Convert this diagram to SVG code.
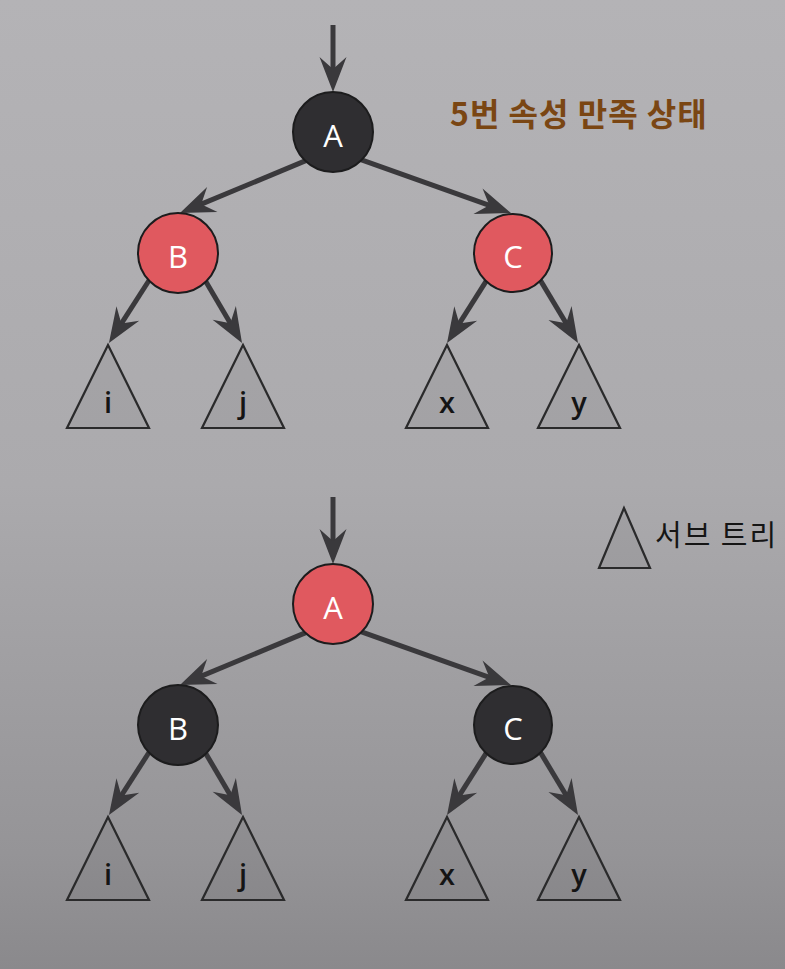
<svg xmlns="http://www.w3.org/2000/svg" width="785" height="969" viewBox="0 0 785 969">
  <defs>
    <linearGradient id="bg" x1="0" y1="0" x2="0" y2="1">
      <stop offset="0" stop-color="#b4b3b6"/>
      <stop offset="0.5" stop-color="#abaaad"/>
      <stop offset="0.88" stop-color="#959497"/>
      <stop offset="1" stop-color="#8a898c"/>
    </linearGradient>
    <marker id="ah" viewBox="-37 -15 38 30" refX="-14" refY="0" markerWidth="38" markerHeight="30" markerUnits="userSpaceOnUse" orient="auto">
      <path d="M0,0 L-35,-13.5 L-23,0 L-35,13.5 Z" fill="#3a393c"/>
    </marker>
    <style>
      .edge { stroke: #3a393c; stroke-width: 5; fill: none; marker-end: url(#ah); }
      .black { fill: #2f2e31; stroke: #1c1c1d; stroke-width: 2; }
      .red { fill: #e0595f; stroke: #1c1c1d; stroke-width: 2; }
      .lbl { font-family: "Open Sans", "Liberation Sans", sans-serif; font-size: 31px; font-weight: 500; fill: #ffffff; text-anchor: middle; }
      .tri { fill: #000000; fill-opacity: 0.05; stroke: #2a2a2b; stroke-width: 2.2; stroke-linejoin: miter; }
      .tlbl { font-family: "Open Sans", "Liberation Sans", sans-serif; font-size: 29px; font-weight: 600; fill: #141414; text-anchor: middle; }
    </style>
  </defs>

  <rect x="0" y="0" width="785" height="969" fill="url(#bg)"/>

  <!-- Connectors -->
  <g id="connectors">
    <g id="connectors-top">
      <line class="edge" x1="333" y1="25" x2="333" y2="78"/>
      <line class="edge" x1="312.4" y1="157.9" x2="192.9" y2="207.6"/>
      <line class="edge" x1="354.5" y1="157.3" x2="497.8" y2="208.3"/>
      <line class="edge" x1="151.2" y1="277" x2="116.5" y2="331.2"/>
      <line class="edge" x1="203" y1="276.8" x2="234.9" y2="330.9"/>
      <line class="edge" x1="488.2" y1="277.9" x2="454.5" y2="331.2"/>
      <line class="edge" x1="538.9" y1="277.9" x2="570.8" y2="331"/>
    </g>
    <g id="connectors-bottom" transform="translate(0,472)">
      <line class="edge" x1="333" y1="25" x2="333" y2="78"/>
      <line class="edge" x1="312.4" y1="157.9" x2="192.9" y2="207.6"/>
      <line class="edge" x1="354.5" y1="157.3" x2="497.8" y2="208.3"/>
      <line class="edge" x1="151.2" y1="277" x2="116.5" y2="331.2"/>
      <line class="edge" x1="203" y1="276.8" x2="234.9" y2="330.9"/>
      <line class="edge" x1="488.2" y1="277.9" x2="454.5" y2="331.2"/>
      <line class="edge" x1="538.9" y1="277.9" x2="570.8" y2="331"/>
    </g>
  </g>

  <!-- Top tree -->
  <g id="top-A"><circle class="black" cx="333" cy="132" r="40"/><text class="lbl" x="333" y="147">A</text></g>
  <g id="top-B"><circle class="red" cx="178" cy="253" r="40"/><text class="lbl" x="178" y="268">B</text></g>
  <g id="top-C"><circle class="red" cx="513" cy="253" r="39"/><text class="lbl" x="513" y="268">C</text></g>
  <g id="top-i"><polygon class="tri" points="108,345 67,428 149,428"/><text class="tlbl" x="108" y="413">i</text></g>
  <g id="top-j"><polygon class="tri" points="243,345 202,428 284,428"/><text class="tlbl" x="243" y="413">j</text></g>
  <g id="top-x"><polygon class="tri" points="447,345 406,428 488,428"/><text class="tlbl" x="447" y="413">x</text></g>
  <g id="top-y"><polygon class="tri" points="579,345 538,428 620,428"/><text class="tlbl" x="579" y="413">y</text></g>

  <!-- Bottom tree -->
  <g transform="translate(0,472)">
    <g id="bot-A"><circle class="red" cx="333" cy="132" r="40"/><text class="lbl" x="333" y="147">A</text></g>
    <g id="bot-B"><circle class="black" cx="178" cy="253" r="40"/><text class="lbl" x="178" y="268">B</text></g>
    <g id="bot-C"><circle class="black" cx="513" cy="253" r="39"/><text class="lbl" x="513" y="268">C</text></g>
    <g id="bot-i"><polygon class="tri" points="108,345 67,428 149,428"/><text class="tlbl" x="108" y="413">i</text></g>
    <g id="bot-j"><polygon class="tri" points="243,345 202,428 284,428"/><text class="tlbl" x="243" y="413">j</text></g>
    <g id="bot-x"><polygon class="tri" points="447,345 406,428 488,428"/><text class="tlbl" x="447" y="413">x</text></g>
    <g id="bot-y"><polygon class="tri" points="579,345 538,428 620,428"/><text class="tlbl" x="579" y="413">y</text></g>
  </g>

  <!-- Title -->
  <g id="title">
    <text x="450" y="126" font-family="'Noto Sans CJK KR', sans-serif" font-size="32" font-weight="700" letter-spacing="1" fill="#7a4613">5번 속성 만족 상태</text>
  </g>

  <!-- Legend -->
  <g id="legend">
    <polygon class="tri" points="624,508 599,568 650,568"/>
    <text x="655" y="546" font-family="'Noto Sans CJK KR', sans-serif" font-size="29" letter-spacing="2" fill="#151515">서브 트리</text>
  </g>
</svg>
